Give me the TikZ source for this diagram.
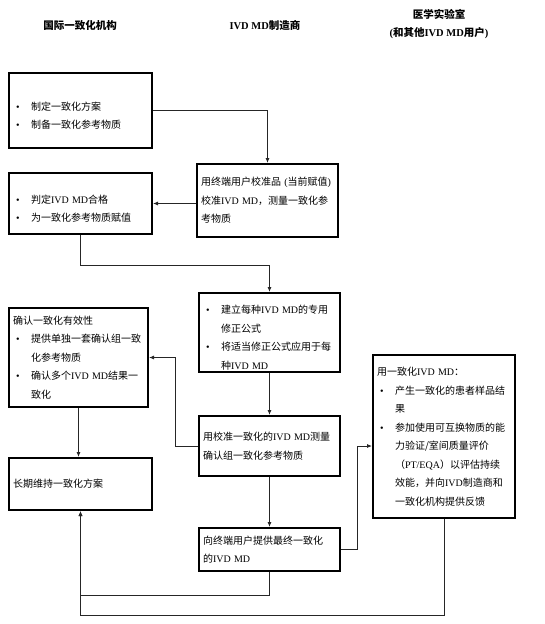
\documentclass[tikz,border=0pt]{standalone}
\usepackage{fontspec}
\setmainfont{Noto Sans CJK SC}
\newfontfamily\lat{Liberation Serif}
\usetikzlibrary{arrows.meta}

\newcommand{\ivd}{{\lat IVD~MD}}
\newcommand{\en}[1]{{\lat #1}}
\newcommand{\bitem}[1]{\par\noindent\hangindent=18pt\hangafter=1\makebox[18pt][l]{\hspace{3pt}{\lat\textbullet}}#1\par}

\tikzset{
    box/.style={draw,line width=2pt,anchor=north west,inner xsep=4pt,inner ysep=2pt,
        align=left,font=\fontsize{10}{18.5}\selectfont,
        execute at begin node=\setlength{\parindent}{0pt}},
    head/.style={font=\fontsize{10.5}{18}\selectfont\bfseries,align=center},
    link/.style={draw=black!85,line width=0.8pt,-{Latex[length=5pt,width=4pt]}},
}

\begin{document}
\begin{tikzpicture}[x=1pt,y=-1pt]
    \useasboundingbox (0,0) rectangle (544,624);

    \node[head] (hOrg) at (80,25) {国际一致化机构};
    \node[head] (hMfr) at (265,25) {{\lat\bfseries IVD MD}制造商};
    \node[head] (hLab) at (439,24) {医学实验室\\{\lat\bfseries(}和其他{\lat\bfseries IVD MD}用户{\lat\bfseries)}};

    \node[box,text width=135pt,minimum height=75pt] (plan) at (8,72)
        {\bitem{制定一致化方案}\bitem{制备一致化参考物质}};
    \node[box,text width=133pt,minimum height=73pt] (calib) at (196,163)
        {用终端用户校准品 \en{(}当前赋值\en{)}\\校准\ivd，测量一致化参\\考物质};
    \node[box,text width=135pt,minimum height=61pt] (assign) at (8,172)
        {\bitem{判定\ivd 合格}\bitem{为一致化参考物质赋值}};
    \node[box,text width=133pt,minimum height=77pt] (formula) at (198,292)
        {\bitem{建立每种\ivd 的专用\newline 修正公式}\bitem{将适当修正公式应用于每\newline 种\ivd}};
    \node[box,text width=131pt,minimum height=99pt] (verify) at (8,307)
        {确认一致化有效性\bitem{提供单独一套确认组一致\newline 化参考物质}\bitem{确认多个\ivd 结果一\newline 致化}};
    \node[box,text width=133pt,minimum height=60pt] (measure) at (198,415)
        {用校准一致化的\ivd 测量\\确认组一致化参考物质};
    \node[box,text width=135pt,minimum height=52pt] (keep) at (8,457)
        {长期维持一致化方案};
    \node[box,text width=133pt,minimum height=43pt] (deliver) at (198,527)
        {向终端用户提供最终一致化\\的\ivd};
    \node[box,text width=134pt,minimum height=163pt] (use) at (372,354)
        {用一致化\ivd：\bitem{产生一致化的患者样品结\newline 果}\bitem{参加使用可互换物质的能\newline 力验证/室间质量评价\newline （\en{PT/EQA}）以评估持续\newline 效能，并向{\lat IVD}制造商和\newline 一致化机构提供反馈}};

    \draw[link] (plan.east) -| (calib.north);
    \draw[link] (calib.west |- assign.east) -- (assign.east);
    \draw[link] (assign.south) -- ++(0,30) -| (formula.north);
    \draw[link] (formula) -- (measure);
    \draw[link] (measure.west) -- ++(-23,0) |- (verify.east);
    \draw[link] (verify.south) -- (verify.south |- keep.north);
    \draw[link] (measure) -- (deliver);
    \draw[link] (deliver.east) -- ++(16,0) |- (use.west |- measure.west);
    \draw[link] (deliver.south) -- ++(0,23) -| (keep.south);
    \draw[link] (use.south) -- ++(0,96) -| (keep.south);
\end{tikzpicture}
\end{document}
